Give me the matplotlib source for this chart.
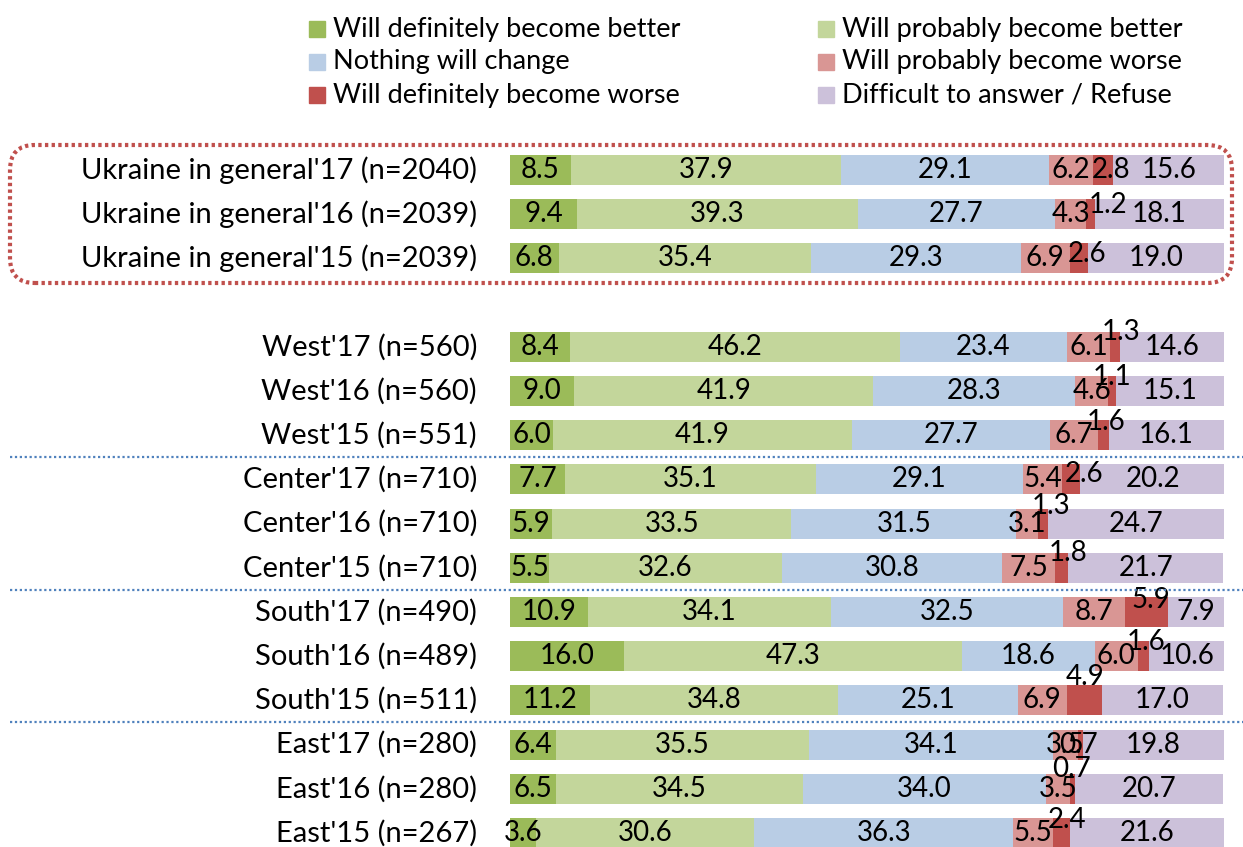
import matplotlib
matplotlib.use("Agg")
import matplotlib.pyplot as plt
from matplotlib.patches import Rectangle, FancyBboxPatch
from matplotlib.lines import Line2D

plt.rcParams['font.family'] = ['Lato', 'DejaVu Sans']

categories = ["Ukraine in general'17 (n=2040)", "Ukraine in general'16 (n=2039)",
              "Ukraine in general'15 (n=2039)",
              "West'17 (n=560)", "West'16 (n=560)", "West'15 (n=551)",
              "Center'17 (n=710)", "Center'16 (n=710)", "Center'15 (n=710)",
              "South'17 (n=490)", "South'16 (n=489)", "South'15 (n=511)",
              "East'17 (n=280)", "East'16 (n=280)", "East'15 (n=267)"]

series_names = ["Will definitely become better", "Will probably become better",
                "Nothing will change", "Will probably become worse",
                "Will definitely become worse", "Difficult to answer / Refuse"]

def_better = [8.5, 9.4, 6.8, 8.4, 9.0, 6.0, 7.7, 5.9, 5.5, 10.9, 16.0, 11.2, 6.4, 6.5, 3.6]
prob_better = [37.9, 39.3, 35.4, 46.2, 41.9, 41.9, 35.1, 33.5, 32.6, 34.1, 47.3, 34.8, 35.5, 34.5, 30.6]
no_change = [29.1, 27.7, 29.3, 23.4, 28.3, 27.7, 29.1, 31.5, 30.8, 32.5, 18.6, 25.1, 34.1, 34.0, 36.3]
prob_worse = [6.2, 4.3, 6.9, 6.1, 4.6, 6.7, 5.4, 3.1, 7.5, 8.7, 6.0, 6.9, 3.5, 3.5, 5.5]
def_worse = [2.8, 1.2, 2.6, 1.3, 1.1, 1.6, 2.6, 1.3, 1.8, 5.9, 1.6, 4.9, 0.7, 0.7, 2.4]
difficult = [15.6, 18.1, 19.0, 14.6, 15.1, 16.1, 20.2, 24.7, 21.7, 7.9, 10.6, 17.0, 19.8, 20.7, 21.6]

series = [def_better, prob_better, no_change, prob_worse, def_worse, difficult]
colors = ["#9BBB59", "#C3D69B", "#B9CDE5", "#D99694", "#C0504D", "#CCC1DA"]

# row slots (one empty slot after the Ukraine block)
slots = [0, 1, 2] + list(range(4, 16))

# label offsets (pixels) for the "definitely worse" labels
dw_offsets = [(8, 0), (18, -9), (8, -4), (6, -15), (0, -14), (3, -13), (13, -5),
              (8, -18), (6, -15), (4, -12), (3, -14), (1, -23), (-2, 0), (-1, -20), (6, -13)]

W, H = 1243, 847
fig = plt.figure(figsize=(W / 100, H / 100), dpi=100)

ax_top_px = 140
ax = fig.add_axes([510 / W, 0, (1224 - 510) / W, (H - ax_top_px) / H])
row_h = 44.2
y_top = (ax_top_px - 170) / row_h
y_bot = (H - 170) / row_h
ax.set_xlim(0, 100)
ax.set_ylim(y_bot, y_top)
ax.axis('off')

FS_NUM = 20
FS_CAT = 21
FS_LEG = 19.5
px2pt = 72 / 100
left = [0.0] * len(categories)
for si, (vals, col) in enumerate(zip(series, colors)):
    ax.barh(slots, vals, left=left, height=0.68, color=col, edgecolor='none')
    for i, v in enumerate(vals):
        cx = left[i] + v / 2
        if si == 4:
            dx, dy = dw_offsets[i]
        else:
            dx, dy = 0, 0
        ax.annotate(f"{v:.1f}", (cx, slots[i]), xytext=(dx * px2pt, -dy * px2pt),
                    textcoords='offset points', ha='center', va='center',
                    fontsize=FS_NUM, color='black')
    left = [l + v for l, v in zip(left, vals)]

# category labels
for i, c in enumerate(categories):
    ax.annotate(c, (0, slots[i]), xytext=(-33 * px2pt, 0), textcoords='offset points',
                ha='right', va='center', fontsize=FS_CAT, color='black', annotation_clip=False)

# separator lines (figure coords)
for ypx in [457, 590, 722]:
    fig.add_artist(Line2D([10 / W, 1.0], [1 - ypx / H, 1 - ypx / H],
                          transform=fig.transFigure, color='#4F81BD',
                          linestyle=(0, (1, 1.2)), linewidth=1.6))

# rounded dotted red box
box = FancyBboxPatch((10 / W, 1 - 283 / H), (1232 - 10) / W, (283 - 145) / H,
                     boxstyle="round,pad=0,rounding_size=0.02",
                     transform=fig.transFigure, fill=False, edgecolor='#C0504D',
                     linewidth=3, linestyle=(0, (0.8, 0.8)), mutation_aspect=W / H)
fig.add_artist(box)

# legend (manual two-column layout)
leg_cols = [309, 818]
leg_rows = [29, 62, 95]
order = [(0, 0, 0), (1, 1, 0), (2, 0, 1), (3, 1, 1), (4, 0, 2), (5, 1, 2)]
for si, c, r in order:
    x = leg_cols[c]
    y = leg_rows[r]
    fig.add_artist(Rectangle((x / W, 1 - (y + 8) / H), 16 / W, 16 / H,
                             transform=fig.transFigure, color=colors[si]))
    fig.text((x + 24) / W, 1 - y / H, series_names[si], ha='left', va='center',
             fontsize=FS_LEG, color='black')

fig.savefig("out.png", dpi=100)
